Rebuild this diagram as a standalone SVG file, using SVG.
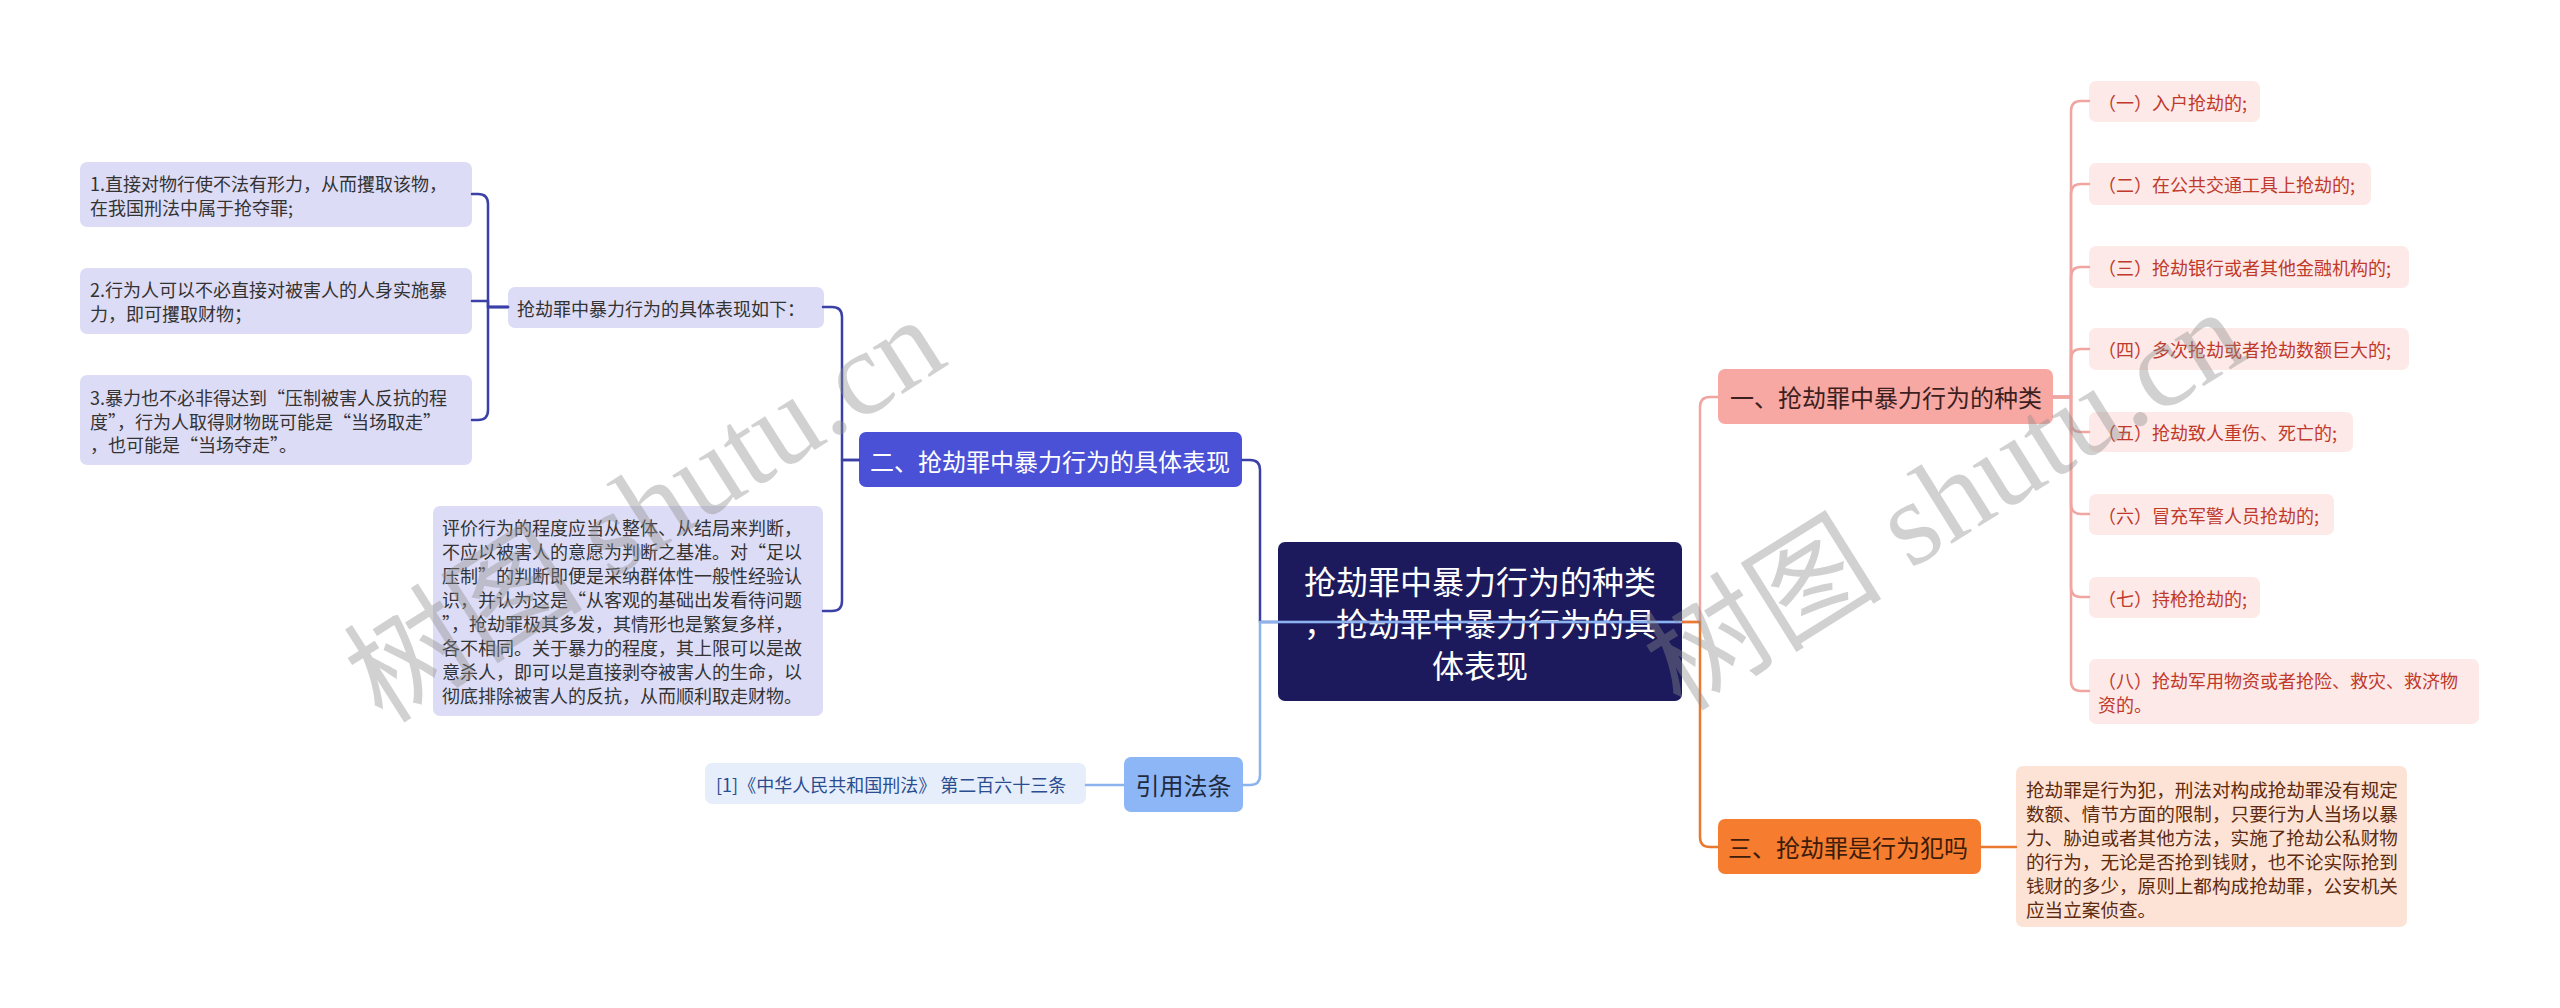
<svg xmlns="http://www.w3.org/2000/svg" width="2560" height="1008" viewBox="0 0 2560 1008" xml:lang="zh-CN">
<style>
text{font-family:"Noto Sans CJK SC","Noto Sans",sans-serif;dominant-baseline:central}
.t18{font-size:18px}
.t24{font-size:24px}
.lav{fill:#dddcf6}
.lavt{fill:#333333}
.pk{fill:#fde9e8}
.pkt{fill:#c0392b}
.c{fill:none;stroke-width:2.5;stroke-linecap:round;stroke-linejoin:round}
.cb{stroke:#3b40a6}
.cl{stroke:#8db3ef}
.cp{stroke:#f0a5a0}
.co{stroke:#e8792f}
.wm{font-family:"Liberation Serif","Noto Sans CJK SC",serif;font-size:120px;fill:#8c8c8c;fill-opacity:0.4;text-anchor:middle}
</style>
<rect width="2560" height="1008" fill="#ffffff"/>

<g id="center">
<rect x="1278" y="542" width="404" height="159" rx="7" fill="#1c1a5c"/>
<text x="1480" y="580" font-size="32" fill="#ffffff" text-anchor="middle">抢劫罪中暴力行为的种类</text>
<text x="1480" y="622" font-size="32" fill="#ffffff" text-anchor="middle">，抢劫罪中暴力行为的具</text>
<text x="1480" y="664" font-size="32" fill="#ffffff" text-anchor="middle">体表现</text>
</g>

<g id="n-er">
<rect x="859" y="432" width="383" height="55" rx="7" fill="#4b51d6"/>
<text class="t24" x="870" y="460" fill="#ffffff">二、抢劫罪中暴力行为的具体表现</text>
</g>

<g id="n-ruxia">
<rect class="lav" x="508" y="287" width="316" height="41" rx="7"/>
<text class="t18 lavt" x="517" y="307.5">抢劫罪中暴力行为的具体表现如下：</text>
</g>

<g id="n-l1">
<rect class="lav" x="80" y="162" width="392" height="65" rx="7"/>
<text class="t18 lavt" x="90" y="182.5">1.直接对物行使不法有形力，从而攫取该物，</text>
<text class="t18 lavt" x="90" y="206.5">在我国刑法中属于抢夺罪;</text>
</g>

<g id="n-l2">
<rect class="lav" x="80" y="268" width="392" height="66" rx="7"/>
<text class="t18 lavt" x="90" y="289">2.行为人可以不必直接对被害人的人身实施暴</text>
<text class="t18 lavt" x="90" y="313">力，即可攫取财物；</text>
</g>

<g id="n-l3">
<rect class="lav" x="80" y="375" width="392" height="90" rx="7"/>
<text class="t18 lavt" x="90" y="397">3.暴力也不必非得达到“压制被害人反抗的程</text>
<text class="t18 lavt" x="90" y="420.5">度”，行为人取得财物既可能是“当场取走”</text>
<text class="t18 lavt" x="90" y="444">，也可能是“当场夺走”。</text>
</g>

<g id="n-long">
<rect class="lav" x="433" y="506" width="390" height="210" rx="7"/>
<text class="t18 lavt" x="442" y="527">评价行为的程度应当从整体、从结局来判断，</text>
<text class="t18 lavt" x="442" y="551">不应以被害人的意愿为判断之基准。对“足以</text>
<text class="t18 lavt" x="442" y="575">压制”的判断即便是采纳群体性一般性经验认</text>
<text class="t18 lavt" x="442" y="599">识，并认为这是“从客观的基础出发看待问题</text>
<text class="t18 lavt" x="442" y="623">”，抢劫罪极其多发，其情形也是繁复多样，</text>
<text class="t18 lavt" x="442" y="647">各不相同。关于暴力的程度，其上限可以是故</text>
<text class="t18 lavt" x="442" y="671">意杀人，即可以是直接剥夺被害人的生命，以</text>
<text class="t18 lavt" x="442" y="695">彻底排除被害人的反抗，从而顺利取走财物。</text>
</g>

<g id="n-yinyong">
<rect x="1124" y="757" width="119" height="55" rx="7" fill="#8db6f6"/>
<text class="t24" x="1183.5" y="784.5" fill="#1f2a40" text-anchor="middle">引用法条</text>
</g>

<g id="n-cite">
<rect x="705" y="763" width="381" height="41" rx="7" fill="#e6eefc"/>
<text class="t18" x="716" y="783.5" fill="#2a4d8f">[1]《中华人民共和国刑法》 第二百六十三条</text>
</g>

<g id="n-yi">
<rect x="1718" y="369" width="335" height="55" rx="7" fill="#f8a8a3"/>
<text class="t24" x="1730" y="396.5" fill="#3d1f1f">一、抢劫罪中暴力行为的种类</text>
</g>

<g id="n-r1"><rect class="pk" x="2089" y="81" width="171" height="41" rx="7"/><text class="t18 pkt" x="2098" y="101.5">（一）入户抢劫的;</text></g>
<g id="n-r2"><rect class="pk" x="2089" y="163" width="282" height="42" rx="7"/><text class="t18 pkt" x="2098" y="184">（二）在公共交通工具上抢劫的;</text></g>
<g id="n-r3"><rect class="pk" x="2089" y="246" width="320" height="42" rx="7"/><text class="t18 pkt" x="2098" y="267">（三）抢劫银行或者其他金融机构的;</text></g>
<g id="n-r4"><rect class="pk" x="2089" y="328" width="320" height="42" rx="7"/><text class="t18 pkt" x="2098" y="349">（四）多次抢劫或者抢劫数额巨大的;</text></g>
<g id="n-r5"><rect class="pk" x="2089" y="412" width="264" height="40" rx="7"/><text class="t18 pkt" x="2098" y="432">（五）抢劫致人重伤、死亡的;</text></g>
<g id="n-r6"><rect class="pk" x="2089" y="494" width="245" height="41" rx="7"/><text class="t18 pkt" x="2098" y="514.5">（六）冒充军警人员抢劫的;</text></g>
<g id="n-r7"><rect class="pk" x="2089" y="577" width="171" height="41" rx="7"/><text class="t18 pkt" x="2098" y="597.5">（七）持枪抢劫的;</text></g>
<g id="n-r8"><rect class="pk" x="2089" y="659" width="390" height="65" rx="7"/><text class="t18 pkt" x="2098" y="680">（八）抢劫军用物资或者抢险、救灾、救济物</text><text class="t18 pkt" x="2098" y="703.5">资的。</text></g>

<g id="n-san">
<rect x="1718" y="819" width="263" height="55" rx="7" fill="#f67c2f"/>
<text class="t24" x="1728" y="846.5" fill="#3d1c0a">三、抢劫罪是行为犯吗</text>
</g>

<g id="n-answer">
<rect x="2016" y="766" width="391" height="161" rx="7" fill="#fde3d5"/>
<text x="2026" y="788" font-size="18.6" fill="#5e2b10">抢劫罪是行为犯，刑法对构成抢劫罪没有规定</text>
<text x="2026" y="812" font-size="18.6" fill="#5e2b10">数额、情节方面的限制，只要行为人当场以暴</text>
<text x="2026" y="836" font-size="18.6" fill="#5e2b10">力、胁迫或者其他方法，实施了抢劫公私财物</text>
<text x="2026" y="860" font-size="18.6" fill="#5e2b10">的行为，无论是否抢到钱财，也不论实际抢到</text>
<text x="2026" y="884" font-size="18.6" fill="#5e2b10">钱财的多少，原则上都构成抢劫罪，公安机关</text>
<text x="2026" y="908" font-size="18.6" fill="#5e2b10">应当立案侦查。</text>
</g>

<g id="connectors">
<path class="c cb" d="M1683,622 H1260 V470 Q1260,460 1250,460 H1242"/>
<path class="c cl" d="M1683,622 H1260 V775 Q1260,785 1250,785 H1243"/>
<path class="c cl" d="M1124,785 H1086"/>
<path class="c cb" d="M859,460 H842 V317 Q842,307 832,307 H823"/>
<path class="c cb" d="M859,460 H842 V601 Q842,611 832,611 H823"/>
<path class="c cb" d="M508,307 H488 V204 Q488,194 478,194 H472"/>
<path class="c cb" d="M508,307 H488 V301 H472"/>
<path class="c cb" d="M508,307 H488 V410 Q488,420 478,420 H472"/>
<path class="c cp" d="M1683,622 H1700 V407 Q1700,397 1710,397 H1718"/>
<path class="c co" d="M1683,622 H1700 V837 Q1700,847 1710,847 H1718"/>
<path class="c co" d="M1981,847 H2016"/>
<path class="c cp" d="M2053,397 H2071 V111 Q2071,101 2081,101 H2089"/>
<path class="c cp" d="M2053,397 H2071 V194 Q2071,184 2081,184 H2089"/>
<path class="c cp" d="M2053,397 H2071 V277 Q2071,267 2081,267 H2089"/>
<path class="c cp" d="M2053,397 H2071 V359 Q2071,349 2081,349 H2089"/>
<path class="c cp" d="M2053,397 H2071 V422 Q2071,432 2081,432 H2089"/>
<path class="c cp" d="M2053,397 H2071 V504 Q2071,514 2081,514 H2089"/>
<path class="c cp" d="M2053,397 H2071 V587 Q2071,597 2081,597 H2089"/>
<path class="c cp" d="M2053,397 H2071 V681 Q2071,691 2081,691 H2089"/>
</g>

<g id="watermark">
<text class="wm" transform="translate(645,510) rotate(-32.5)">树图 shutu.cn</text>
<text class="wm" transform="translate(1945,500) rotate(-32)">树图 shutu.cn</text>
</g>
</svg>
